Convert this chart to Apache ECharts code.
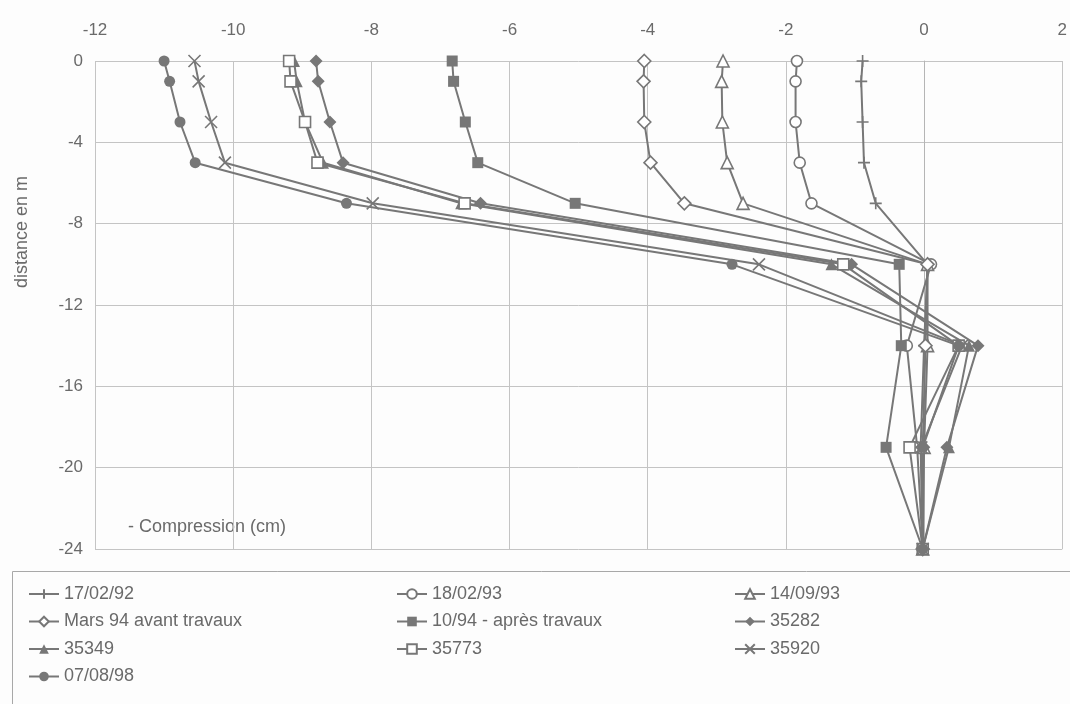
<!DOCTYPE html>
<html>
<head>
<meta charset="utf-8">
<script src="https://cdn.jsdelivr.net/npm/echarts@6/dist/echarts.min.js"></script>
<style>
  html, body { margin: 0; padding: 0; background: #fdfdfd; }
  #chart { width: 1070px; height: 704px; }
</style>
</head>
<body>
<div id="chart"></div>
<script>
// Depth of each measuring point (m)
const depths = [0, -1, -3, -5, -7, -10, -14, -19, -24];

// Displacement at each depth (cm), one array per survey
const s_170292 = [-0.89, -0.91, -0.89, -0.87, -0.70, 0.05, 0.00, -0.05, -0.02];
const s_180293 = [-1.84, -1.86, -1.86, -1.80, -1.63, 0.10, -0.25, -0.10, -0.02];
const s_140993 = [-2.91, -2.93, -2.92, -2.85, -2.62, 0.05, 0.05, 0.00, -0.02];
const s_mars94 = [-4.05, -4.06, -4.05, -3.96, -3.47, 0.05, 0.02, -0.02, -0.02];
const s_1094   = [-6.83, -6.81, -6.64, -6.46, -5.05, -0.36, -0.33, -0.55, -0.02];
const s_35282  = [-8.80, -8.77, -8.60, -8.41, -6.42, -1.05, 0.78, 0.33, -0.02];
const s_35349  = [-9.12, -9.08, -8.96, -8.70, -6.70, -1.34, 0.65, 0.36, -0.02];
const s_35773  = [-9.19, -9.17, -8.96, -8.78, -6.65, -1.17, 0.50, -0.21, -0.02];
const s_35920  = [-10.56, -10.50, -10.32, -10.12, -7.98, -2.39, 0.55, -0.04, -0.02];
const s_070898 = [-11.00, -10.92, -10.77, -10.55, -8.36, -2.78, 0.50, -0.02, -0.02];

const names = ['17/02/92', '18/02/93', '14/09/93', 'Mars 94 avant travaux',
  '10/94 - après travaux', '35282', '35349', '35773', '35920', '07/08/98'];
const values = [s_170292, s_180293, s_140993, s_mars94, s_1094,
  s_35282, s_35349, s_35773, s_35920, s_070898];

// Axis ticks
const xTicks = { min: -12, max: 2, interval: 2 };
const yTicks = { min: -24, max: 0, interval: 4 };

const GRAY = '#777777';
const TEXT = '#6a6a6a';
const FONT = '"Liberation Sans", Arial, sans-serif';

const plusPath = 'path://M0,5L10,5M5,0L5,10';
const crossPath = 'path://M0,0L10,10M10,0L0,10';

// marker style per survey: [symbol, size, filled]
const markers = [
  [plusPath, 12, false],
  ['circle', 11, false],
  ['triangle', 12, false],
  ['diamond', 13, false],
  ['rect', 11, true],
  ['diamond', 13, true],
  ['triangle', 12, true],
  ['rect', 11, false],
  [crossPath, 12, false],
  ['circle', 11, true]
];

const series = names.map((n, i) => {
  const [sym, size, filled] = markers[i];
  const isPath = sym.startsWith('path://');
  return {
    name: n,
    type: 'line',
    data: depths.map((d, k) => [values[i][k], d]),
    symbol: sym,
    symbolSize: size,
    showAllSymbol: true,
    lineStyle: { color: GRAY, width: 2 },
    itemStyle: {
      color: filled ? GRAY : (isPath ? GRAY : '#ffffff'),
      borderColor: GRAY,
      borderWidth: filled ? 0 : 1.6
    },
    emphasis: { disabled: true },
    animation: false
  };
});

const legendText = {
  color: TEXT,
  fontFamily: '"Liberation Sans Narrow", "Liberation Sans", Arial, sans-serif',
  fontSize: 18,
  lineHeight: 20
};
function legendCol(left, data) {
  return {
    orient: 'vertical',
    left: left,
    top: 579,
    itemWidth: 30,
    itemHeight: 12,
    itemGap: 7.5,
    data: data,
    textStyle: legendText,
    selectedMode: false
  };
}

const option = {
  backgroundColor: '#fdfdfd',
  animation: false,
  grid: { left: 95, right: 2, top: 61, bottom: 155, containLabel: false },
  xAxis: {
    type: 'value',
    position: 'top',
    min: xTicks.min, max: xTicks.max, interval: xTicks.interval,
    axisLine: { show: false },
    axisTick: { show: false },
    axisLabel: { color: TEXT, fontSize: 17, margin: 22, fontFamily: FONT },
    splitLine: { show: true, lineStyle: { color: '#c4c4c4', width: 1 } }
  },
  yAxis: {
    type: 'value',
    min: yTicks.min, max: yTicks.max, interval: yTicks.interval,
    axisLine: { show: true, lineStyle: { color: '#b5b5b5' } },
    axisTick: { show: false },
    axisLabel: { color: TEXT, fontSize: 17, margin: 12, fontFamily: FONT },
    splitLine: { show: true, lineStyle: { color: '#c4c4c4', width: 1 } }
  },
  legend: [
    legendCol(23, ['17/02/92', 'Mars 94 avant travaux', '35349', '07/08/98']),
    legendCol(391, ['18/02/93', '10/94 - après travaux', '35773']),
    legendCol(729, ['14/09/93', '35282', '35920'])
  ],
  graphic: [
    {
      type: 'rect',
      shape: { x: 12.5, y: 571.5, width: 1080, height: 160 },
      style: { fill: 'none', stroke: '#a8a8a8', lineWidth: 1 },
      silent: true
    },
    {
      type: 'text',
      x: 22, y: 232,
      rotation: Math.PI / 2,
      style: {
        text: 'distance en m',
        fill: TEXT,
        fontSize: 18,
        fontFamily: FONT,
        align: 'center',
        verticalAlign: 'middle'
      },
      silent: true
    },
    {
      type: 'text',
      x: 128, y: 527,
      style: {
        text: '- Compression (cm)',
        fill: TEXT,
        fontSize: 18,
        fontFamily: FONT,
        align: 'left',
        verticalAlign: 'middle'
      },
      silent: true
    }
  ],
  series: series
};

const chart = echarts.init(document.getElementById('chart'), null, { renderer: 'canvas' });
chart.setOption(option);
</script>
</body>
</html>
